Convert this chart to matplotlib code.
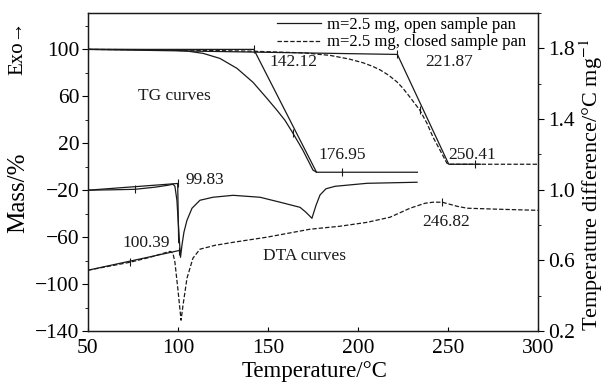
import matplotlib
matplotlib.use("Agg")
import matplotlib.pyplot as plt
from matplotlib.ticker import MultipleLocator

plt.rcParams['font.family'] = ['Liberation Serif', 'DejaVu Serif']
plt.rcParams['mathtext.fontset'] = 'stix'

# --- TG, open sample pan (solid): temperature / degC, mass / %
tg_open_T = [50, 80, 95, 105, 114, 123.3, 132.8, 141.7, 149.4, 155,
             159.4, 163.9, 169.4, 175, 176.95, 190, 210, 233]
tg_open_m = [100, 99.8, 99.5, 98.6, 96.6, 92.3, 83.8, 71.9, 58.3, 48.1,
             39.6, 28.5, 14, -2.9, -4.7, -4.7, -4.7, -4.7]

# --- TG, closed sample pan (dashed)
tg_closed_T = [50, 100, 140, 170, 184.4, 195, 202.8, 208, 212.2, 217, 221.7, 225,
               228.9, 234.4, 238.3, 241.7, 245.6, 249.4, 250.41, 270, 300]
tg_closed_m = [100, 99.5, 98.5, 97, 94.9, 91.8, 88.6, 85.6, 82.6, 78, 72.2, 66.8,
               59.2, 48.1, 37, 25.1, 14, 3, 2.1, 2.1, 2.1]

# --- DTA, open pan (solid): temperature difference / degC mg^-1
dta_open_T = [50, 62.2, 76.1, 87.2, 94.4, 97.2, 98.3, 99.4, 100.6, 101.4,
              102.2, 103.3, 105, 107.8, 112.2, 119.4, 130.6, 145.6, 156.7,
              167.8, 171.1, 174.4, 176.7, 178.9, 182.2, 187.2, 205, 232.8]
dta_open_d = [0.997, 0.999, 1.002, 1.014, 1.025, 1.031, 1.019, 0.94, 0.742, 0.617,
              0.685, 0.759, 0.827, 0.895, 0.94, 0.957, 0.968, 0.957, 0.929,
              0.9, 0.872, 0.838, 0.912, 0.97, 1.005, 1.019, 1.036, 1.042]

# --- DTA, closed pan (dashed)
dta_closed_T = [50, 73.3, 84.4, 95.6, 97.2, 98.3, 100, 101.7, 102.8, 105, 108.3,
                112.2, 120.6, 130.6, 149.4, 173.3, 190, 205, 217.8, 228.9,
                237.2, 241.7, 246.7, 251.1, 255, 260.6, 278.9, 300]
dta_closed_d = [0.544, 0.589, 0.617, 0.651, 0.640, 0.589, 0.431, 0.261, 0.346,
                0.499, 0.612, 0.663, 0.685, 0.702, 0.731, 0.776, 0.793, 0.815,
                0.844, 0.895, 0.923, 0.929, 0.929, 0.917, 0.906, 0.895, 0.889, 0.883]

# tangent constructions (TG, mass axis)
tan_open_T = [50, 142.12, 176.95]
tan_open_m = [100, 100, -4.7]
tan_closed_T = [50, 221.87, 250.41, 268]
tan_closed_m = [100, 95.7, 2.1, 2.1]
# tangent constructions (DTA axis)
dta_tan_open_T = [50, 99.83, 100.39]
dta_tan_open_d = [0.997, 1.035, 0.70]
dta_tan_closed_T = [50, 100.39]
dta_tan_closed_d = [0.544, 0.655]

# small tick marks on the curves
tg_marks_T = [50, 142.12, 163.9, 191, 221.87, 234.4, 265]
tg_marks_m = [100, 100, 28.5, -4.7, 95.7, 48.1, 2.1]
dta_marks_T = [76.1, 99.83, 73.3, 100.39, 246.82]
dta_marks_d = [1.002, 1.035, 0.589, 0.655, 0.929]

# labels (temperature, mass-axis position)
labels = ["142.12", "221.87", "176.95", "250.41", "99.83", "100.39", "246.82",
          "TG curves", "DTA curves"]
label_T = [151, 237.2, 177.8, 250, 104, 68.9, 235.6, 77.8, 147.2]
label_m = [88.9, 88.9, 9.8, 9.8, -11.5, -65, -47.2, 60, -76]

col = '#1a1a1a'
lw = 0.9
dash = (0, (3.5, 1.6))

fig = plt.figure(figsize=(6.08, 3.85), dpi=100)
ax = fig.add_axes([0.1447, 0.1403, 0.7402, 0.8259])
ax2 = ax.twinx()

ax.plot(tg_open_T, tg_open_m, color=col, lw=lw, label='m=2.5 mg, open sample pan')
ax.plot(tg_closed_T, tg_closed_m, color=col, lw=lw, ls=dash,
        label='m=2.5 mg, closed sample pan')
ax.plot(tan_open_T, tan_open_m, color=col, lw=lw)
ax.plot(tan_closed_T, tan_closed_m, color=col, lw=lw)
ax.plot(tg_marks_T, tg_marks_m, ls='none', marker='|', ms=6, mew=0.8, color=col)

ax2.plot(dta_open_T, dta_open_d, color=col, lw=lw)
ax2.plot(dta_closed_T, dta_closed_d, color=col, lw=lw, ls=dash)
ax2.plot(dta_tan_open_T, dta_tan_open_d, color=col, lw=lw)
ax2.plot(dta_tan_closed_T, dta_tan_closed_d, color=col, lw=lw)
ax2.plot(dta_marks_T, dta_marks_d, ls='none', marker='|', ms=6, mew=0.8, color=col)

for s, t, m in zip(labels, label_T, label_m):
    ax.text(t, m, s, fontsize=12.5, ha='left', va='center', color=col)

ax.set_xlim(50, 300)
ax.set_ylim(-140, 131)
ax2.set_ylim(0.2, 2.0)
ax.set_xticks([50, 100, 150, 200, 250, 300])
ax.set_yticks([100, 60, 20, -20, -60, -100, -140])
ax.yaxis.set_minor_locator(MultipleLocator(20))
ax2.set_yticks([0.2, 0.6, 1.0, 1.4, 1.8])
ax2.yaxis.set_minor_locator(MultipleLocator(0.2))

ax.tick_params(axis='x', direction='in', length=3, labelsize=15.5, pad=6)
ax.tick_params(axis='y', which='major', direction='out', length=4, labelsize=15.5, pad=2)
ax.tick_params(axis='y', which='minor', direction='out', length=2.5)
ax2.tick_params(axis='y', which='major', direction='out', length=4, labelsize=15.5, pad=3)
ax2.tick_params(axis='y', which='minor', direction='out', length=2.5)
for a in (ax, ax2):
    for sp in a.spines.values():
        sp.set_color(col)
        sp.set_linewidth(0.9)

fig.text(0.518, 0.034, 'Temperature/°C', ha='center', va='center', fontsize=16.5)
fig.text(0.03, 0.50, 'Mass/%', rotation=90, ha='center', va='center', fontsize=18)
fig.text(0.03, 0.875, 'Exo→', rotation=90, ha='center', va='center', fontsize=15)
fig.text(0.972, 0.52, 'Temperature difference/°C mg$^{-1}$', rotation=90,
         ha='center', va='center', fontsize=16)

ax.legend(loc='upper right', bbox_to_anchor=(1.0, 1.025), frameon=False, fontsize=12,
          handlelength=2.6, handletextpad=0.4, labelspacing=0.1, borderaxespad=0.3)

fig.savefig('out.png', dpi=100)
